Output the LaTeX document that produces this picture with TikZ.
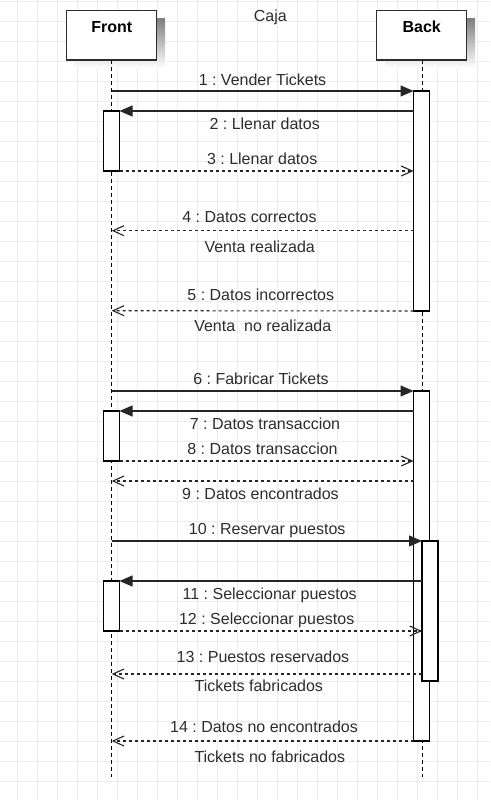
\documentclass[tikz,border=0pt]{standalone}
\usepackage{fontspec}
\setmainfont{Liberation Sans}
\usetikzlibrary{arrows.meta,calc}
\definecolor{gridc}{RGB}{236,236,236}
\definecolor{ink}{RGB}{45,45,45}
\definecolor{shade}{RGB}{242,242,242}
\frenchspacing
\begin{document}
\frenchspacing
\begin{tikzpicture}[x=1pt,y=-1pt,
  every node/.style={inner sep=0pt,outer sep=0pt},
  txt/.style={font=\fontsize{16}{19}\selectfont,text=ink,anchor=base},
  namefont/.style={font=\fontsize{16}{19}\selectfont\bfseries,text=black,anchor=base},
  actorbox/.style={draw=ink,line width=1.2pt,fill=white,minimum width=90pt,minimum height=49.3pt},
  actbar/.style={draw=black,line width=1.1pt,fill=white,minimum width=16pt},
  lifeline/.style={draw=black,line width=1pt,dash pattern=on 4pt off 3pt},
  syncmsg/.style={draw=black!85,line width=1.1pt,-{Triangle[length=13pt,width=11pt]}},
  retmsg/.style={draw=black!85,line width=1.1pt,dash pattern=on 3pt off 3pt,-{Straight Barb[length=11pt,width=10pt]}}]
% background and grid
\fill[white] (0,0) rectangle (490,800);
\useasboundingbox (0,0) rectangle (490,800);
\foreach \gx in {17.3,37.3,...,490} \draw[gridc,line width=0.9pt] (\gx,0) -- (\gx,800);
\foreach \gy in {1.7,21.7,...,800} \draw[gridc,line width=0.9pt] (0,\gy) -- (490,\gy);
% title
\node[txt] (title) at (270.3,21.7) {Caja};
% actor boxes with shadow
\fill[shade] (75,19) rectangle (165,68);
\fill[shade] (385,19) rectangle (475,68);
\node[actorbox] (front) at (111.7,35.35) {};
\node[actorbox] (back) at (421.7,35.35) {};
\node[namefont] (frontname) at (111.7,32.3) {Front};
\node[namefont] (backname) at (421.7,32.3) {Back};
% lifelines
\coordinate (frontend) at (111.7,777);
\coordinate (backend) at (422.3,777);
\draw[lifeline] (front.south) -- (frontend);
\draw[lifeline] (back.south -| backend) -- (backend);
% activation bars
\node[actbar,minimum height=220pt] (b1) at (421.5,201) {};
\node[actbar,minimum height=350pt] (b2) at (421.5,566) {};
\node[actbar,minimum height=140pt] (b3) at (430,611) {};
\node[actbar,minimum height=60pt] (f1) at (111.5,141) {};
\node[actbar,minimum height=50pt] (f2) at (111.5,436) {};
\node[actbar,minimum height=50pt] (f3) at (111.5,606) {};
% lifeline points
\coordinate (p1) at (111.7,91);
\coordinate (p4) at (111.7,230.7);
\coordinate (p5) at (111.7,310.7);
\coordinate (p6) at (111.7,391);
\coordinate (p9) at (111.7,481);
\coordinate (p10) at (111.7,541);
\coordinate (p13) at (111.7,674);
\coordinate (p14) at (111.7,741);
% messages
\draw[syncmsg] (p1) -- (b1.north west);
\draw[syncmsg] (b1.west |- f1.north) -- (f1.north east);
\draw[retmsg] (f1.south east) -- (b1.west |- f1.south);
\draw[retmsg] (b1.west |- p4) -- (p4);
\draw[retmsg] (b1.south west) -- (p5);
\draw[syncmsg] (p6) -- (b2.north west);
\draw[syncmsg] (b2.west |- f2.north) -- (f2.north east);
\draw[retmsg] (f2.south east) -- (b2.west |- f2.south);
\draw[retmsg] (b2.west |- p9) -- (p9);
\draw[syncmsg] (p10) -- (b3.north west);
\draw[syncmsg] (b3.west |- f3.north) -- (f3.north east);
\draw[retmsg] (f3.south east) -- (b3.west |- f3.south);
\draw[retmsg] (b3.west |- p13) -- (p13);
\draw[retmsg] (b2.south west) -- (p14);
% labels
\node[txt] (l1) at (262.5,85) {1 : Vender Tickets};
\node[txt] (l2) at (264.7,129.5) {2 : Llenar datos};
\node[txt] (l3) at (262.2,164) {3 : Llenar datos};
\node[txt] (l4) at (249.5,222) {4 : Datos correctos};
\node[txt] (l4b) at (259.7,252) {Venta realizada};
\node[txt] (l5) at (260.8,300.5) {5 : Datos incorrectos};
\node[txt] (l5b) at (262.8,331.7) {Venta\ \ no realizada};
\node[txt] (l6) at (261,384) {6 : Fabricar Tickets};
\node[txt] (l7) at (265,429) {7 : Datos transaccion};
\node[txt] (l8) at (262.5,454) {8 : Datos transaccion};
\node[txt] (l9) at (260.5,499) {9 : Datos encontrados};
\node[txt] (l10) at (267.2,534) {10 : Reservar puestos};
\node[txt] (l11) at (269.7,599) {11 : Seleccionar puestos};
\node[txt] (l12) at (266.7,624) {12 : Seleccionar puestos};
\node[txt] (l13) at (263,662) {13 : Puestos reservados};
\node[txt] (l13b) at (258.8,691.5) {Tickets fabricados};
\node[txt] (l14) at (264,732) {14 : Datos no encontrados};
\node[txt] (l14b) at (269.8,762) {Tickets no fabricados};
\end{tikzpicture}
\end{document}
